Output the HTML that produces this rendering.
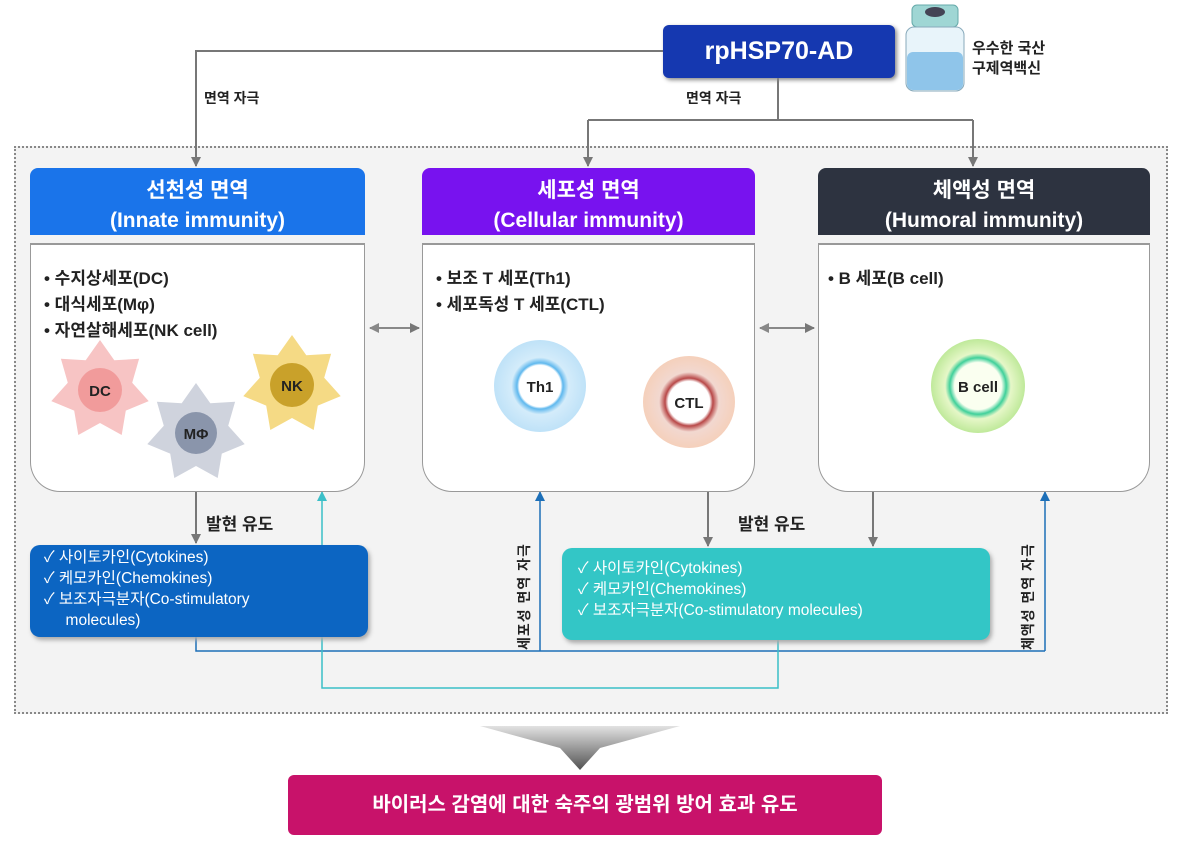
<!DOCTYPE html>
<html><head><meta charset="utf-8">
<style>
body{margin:0;width:1180px;height:855px;background:#fff;overflow:hidden;font-family:"Liberation Sans","Noto Sans CJK KR",sans-serif;}
.a{position:absolute}
.frame{left:14px;top:146px;width:1150px;height:564px;border:2px dotted #888;background:#f3f3f3;}
.hd{color:#fff;text-align:center;font-size:21px;font-weight:bold;line-height:30px;padding-top:8px;border-radius:8px 8px 0 0;height:67px;box-sizing:border-box;}
.body{background:#fff;border:1px solid #999;border-top:2px solid #999;border-radius:0 0 30px 30px;box-sizing:border-box;}
.li{font-size:17px;font-weight:bold;color:#222;line-height:26px;}
.bx{color:#fff;font-size:15.5px;line-height:21px;border-radius:10px;box-sizing:border-box;box-shadow:2px 3px 4px #aaa;}
.vt{transform:rotate(-90deg);transform-origin:0 0;font-size:14px;font-weight:bold;color:#222;letter-spacing:1px;white-space:nowrap}
</style></head><body>
<div class="a frame"></div>
<svg class="a" style="left:0;top:0" width="1180" height="855">
<defs>
<marker id="g" markerUnits="userSpaceOnUse" markerWidth="10" markerHeight="10" refX="9" refY="5" orient="auto"><path d="M0,0 L10,5 L0,10z" fill="#777"/></marker>
<marker id="g2" markerUnits="userSpaceOnUse" markerWidth="10" markerHeight="10" refX="1" refY="5" orient="auto"><path d="M10,0 L0,5 L10,10z" fill="#888"/></marker>
<marker id="b" markerUnits="userSpaceOnUse" markerWidth="10" markerHeight="10" refX="9" refY="5" orient="auto"><path d="M0,0 L10,5 L0,10z" fill="#1d6fb8"/></marker>
<marker id="t" markerUnits="userSpaceOnUse" markerWidth="10" markerHeight="10" refX="9" refY="5" orient="auto"><path d="M0,0 L10,5 L0,10z" fill="#3bbfc8"/></marker>
<linearGradient id="ch" x1="0" y1="0" x2="0" y2="1"><stop offset="0" stop-color="#ddd"/><stop offset="1" stop-color="#333"/></linearGradient>
</defs>
<g fill="none" stroke="#777" stroke-width="2">
<path d="M663,51 H196 V166" marker-end="url(#g)"/>
<path d="M778,78 V120"/>
<path d="M588,120 H973"/>
<path d="M588,120 V166" marker-end="url(#g)"/>
<path d="M973,120 V166" marker-end="url(#g)"/>
<path d="M196,492 V543" marker-end="url(#g)"/>
<path d="M708,492 V546" marker-end="url(#g)"/>
<path d="M873,492 V546" marker-end="url(#g)"/>
<path d="M370,328 H419" stroke="#888" marker-start="url(#g2)" marker-end="url(#g)"/>
<path d="M760,328 H814" stroke="#888" marker-start="url(#g2)" marker-end="url(#g)"/>
</g>
<g fill="none" stroke="#1d6fb8" stroke-width="1.5">
<path d="M196,637 V651 H1045"/>
<path d="M540,651 V492" marker-end="url(#b)"/>
<path d="M1045,651 V492" marker-end="url(#b)"/>
</g>
<g fill="none" stroke="#3bbfc8" stroke-width="1.5">
<path d="M778,640 V688 H322 V492" marker-end="url(#t)"/>
</g>
<path d="M480,726 L680,726 L600,748 L580,770 L560,748 Z" fill="url(#ch)" opacity="0.85"/>
<rect x="912" y="5" width="46" height="22" rx="5" fill="#9fd6d4" stroke="#6aa"/>
<ellipse cx="935" cy="12" rx="10" ry="5" fill="#445"/>
<rect x="906" y="27" width="58" height="64" rx="8" fill="#e8f4fa" stroke="#8ab"/>
<rect x="907" y="52" width="56" height="38" rx="6" fill="#8fc5ea"/>
</svg>
<div class="a" style="left:663px;top:25px;width:232px;height:53px;background:#1538b0;border-radius:6px;color:#fff;font-size:25px;font-weight:bold;text-align:center;line-height:53px;box-shadow:2px 2px 4px #888">rpHSP70-AD</div>
<div class="a" style="left:972px;top:39px;font-size:15px;font-weight:bold;line-height:20px;color:#222">우수한 국산<br>구제역백신</div>
<div class="a" style="left:204px;top:88px;font-size:14px;font-weight:bold;color:#222">면역 자극</div>
<div class="a" style="left:686px;top:88px;font-size:14px;font-weight:bold;color:#222">면역 자극</div>

<div class="a hd" style="left:30px;top:168px;width:335px;background:#1a74ea">선천성 면역<br>(Innate immunity)</div>
<div class="a body" style="left:30px;top:243px;width:335px;height:249px"></div>
<div class="a li" style="left:44px;top:266px">• 수지상세포(DC)<br>• 대식세포(Mφ)<br>• 자연살해세포(NK cell)</div>

<div class="a hd" style="left:422px;top:168px;width:333px;background:#7812ef">세포성 면역<br>(Cellular immunity)</div>
<div class="a body" style="left:422px;top:243px;width:333px;height:249px"></div>
<div class="a li" style="left:436px;top:266px">• 보조 T 세포(Th1)<br>• 세포독성 T 세포(CTL)</div>

<div class="a hd" style="left:818px;top:168px;width:332px;background:#2d3340">체액성 면역<br>(Humoral immunity)</div>
<div class="a body" style="left:818px;top:243px;width:332px;height:249px"></div>
<div class="a li" style="left:828px;top:266px">• B 세포(B cell)</div>

<svg class="a" style="left:0;top:0" width="1180" height="855">
<defs>
<radialGradient id="th"><stop offset="0.45" stop-color="#fff"/><stop offset="0.5" stop-color="#5fb8ee"/><stop offset="0.62" stop-color="#d4ecfa"/><stop offset="1" stop-color="#bfe2f8"/></radialGradient>
<radialGradient id="ct"><stop offset="0.45" stop-color="#fff"/><stop offset="0.52" stop-color="#b84848"/><stop offset="0.65" stop-color="#f2d8d0"/><stop offset="1" stop-color="#f5d0bb"/></radialGradient>
<radialGradient id="bc"><stop offset="0.5" stop-color="#fafff0"/><stop offset="0.6" stop-color="#3fd09a"/><stop offset="0.7" stop-color="#e6f7c8"/><stop offset="1" stop-color="#bfe99a"/></radialGradient>
</defs>
<g transform="translate(100,390)"><polygon points="0,-50 14.3,-29.7 39.1,-31.2 32.2,-7.3 48.7,11.1 25.8,20.6 21.7,45 0,33 -21.7,45 -25.8,20.6 -48.7,11.1 -32.2,-7.3 -39.1,-31.2 -14.3,-29.7" fill="#f7c4c4"/><circle r="22" fill="#f19b9b"/><text y="6" text-anchor="middle" font-size="15" font-weight="bold" fill="#222">DC</text></g>
<g transform="translate(196,433)"><polygon points="0,-50 14.3,-29.7 39.1,-31.2 32.2,-7.3 48.7,11.1 25.8,20.6 21.7,45 0,33 -21.7,45 -25.8,20.6 -48.7,11.1 -32.2,-7.3 -39.1,-31.2 -14.3,-29.7" fill="#cfd3dd"/><circle r="21" fill="#8a95ab"/><text y="6" text-anchor="middle" font-size="15" font-weight="bold" fill="#222">MΦ</text></g>
<g transform="translate(292,385)"><polygon points="0,-50 14.3,-29.7 39.1,-31.2 32.2,-7.3 48.7,11.1 25.8,20.6 21.7,45 0,33 -21.7,45 -25.8,20.6 -48.7,11.1 -32.2,-7.3 -39.1,-31.2 -14.3,-29.7" fill="#f5da85"/><circle r="22" fill="#c9a12a"/><text y="6" text-anchor="middle" font-size="15" font-weight="bold" fill="#222">NK</text></g>
<circle cx="540" cy="386" r="46" fill="url(#th)"/><text x="540" y="392" text-anchor="middle" font-size="15" font-weight="bold" fill="#222">Th1</text>
<circle cx="689" cy="402" r="46" fill="url(#ct)"/><text x="689" y="408" text-anchor="middle" font-size="15" font-weight="bold" fill="#222">CTL</text>
<circle cx="978" cy="386" r="47" fill="url(#bc)"/><text x="978" y="392" text-anchor="middle" font-size="15" font-weight="bold" fill="#222">B cell</text>
</svg>

<div class="a" style="left:206px;top:510px;font-size:17px;font-weight:bold;color:#222">발현 유도</div>
<div class="a" style="left:738px;top:510px;font-size:17px;font-weight:bold;color:#222">발현 유도</div>
<div class="a vt" style="left:514px;top:650px">세포성 면역 자극</div>
<div class="a vt" style="left:1018px;top:650px">체액성 면역 자극</div>

<div class="a bx" style="left:30px;top:545px;width:338px;height:92px;background:#0c65c2;padding:2px 0 0 14px">✓ 사이토카인(Cytokines)<br>✓ 케모카인(Chemokines)<br>✓ 보조자극분자(Co-stimulatory<br>&nbsp;&nbsp;&nbsp;&nbsp;&nbsp;molecules)</div>
<div class="a bx" style="left:562px;top:548px;width:428px;height:92px;background:#33c6c6;padding:10px 0 0 16px">✓ 사이토카인(Cytokines)<br>✓ 케모카인(Chemokines)<br>✓ 보조자극분자(Co-stimulatory molecules)</div>

<div class="a" style="left:288px;top:775px;width:594px;height:60px;background:#c8126a;border-radius:6px;color:#fff;font-size:20px;font-weight:bold;text-align:center;line-height:60px">바이러스 감염에 대한 숙주의 광범위 방어 효과 유도</div>
</body></html>
